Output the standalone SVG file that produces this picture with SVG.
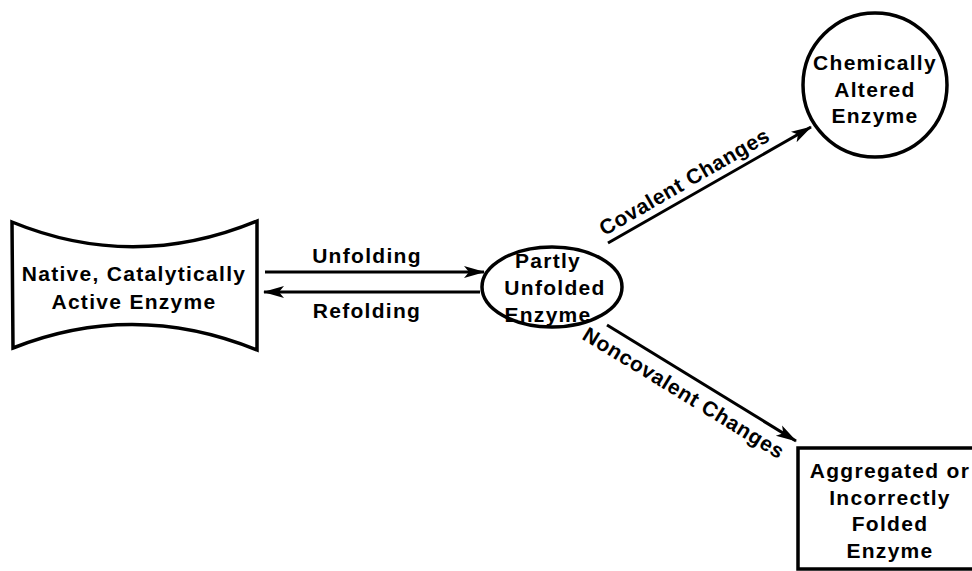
<svg xmlns="http://www.w3.org/2000/svg" width="972" height="571" viewBox="0 0 972 571">
<defs>
<marker id="ah" markerWidth="22" markerHeight="14" refX="20" refY="7" orient="auto" markerUnits="userSpaceOnUse">
<path d="M0,1 L21,7 L0,13 L5,7 Z" fill="#000"/>
</marker>
<style>
.s{fill:none;stroke:#000;stroke-width:3.5}
.t{font-family:"Liberation Sans",Arial,sans-serif;font-weight:bold;font-size:21px;letter-spacing:1.3px;fill:#000;text-anchor:middle}
.r{letter-spacing:0.6px}
.c{fill:none;stroke:#000;stroke-width:3;marker-end:url(#ah)}
</style>
</defs>
<rect width="972" height="571" fill="#fff"/>
<g id="native">
<path class="s" d="M12,222 Q134,272 257,221 L257,350 Q134,300 13,348 Z"/>
<text class="t" x="134" y="281">Native, Catalytically</text>
<text class="t" x="134" y="309">Active Enzyme</text>
</g>
<g id="partly">
<ellipse class="s" cx="552" cy="287" rx="70" ry="40"/>
<text class="t" x="548" y="268">Partly</text>
<text class="t" x="555" y="295">Unfolded</text>
<text class="t" x="548" y="322">Enzyme</text>
</g>
<g id="chem">
<circle class="s" cx="875" cy="85" r="72"/>
<text class="t" x="875" y="70">Chemically</text>
<text class="t" x="875" y="97">Altered</text>
<text class="t" x="875" y="123">Enzyme</text>
</g>
<g id="aggr">
<rect class="s" x="798" y="448" width="190" height="121"/>
<text class="t" x="890" y="478">Aggregated or</text>
<text class="t" x="890" y="505">Incorrectly</text>
<text class="t" x="890" y="531">Folded</text>
<text class="t" x="890" y="558">Enzyme</text>
</g>
<g id="connectors">
<line class="c" x1="265" y1="272" x2="484" y2="272"/>
<line class="c" x1="480" y1="292" x2="264" y2="292"/>
<line class="c" x1="608" y1="243" x2="811" y2="127"/>
<line class="c" x1="607" y1="325" x2="796" y2="441"/>
<text class="t" x="367" y="263">Unfolding</text>
<text class="t" x="367" y="318">Refolding</text>
<text class="t r" transform="translate(688,188) rotate(-30)">Covalent Changes</text>
<text class="t r" transform="translate(680,399) rotate(31.5)">Noncovalent Changes</text>
</g>
</svg>
